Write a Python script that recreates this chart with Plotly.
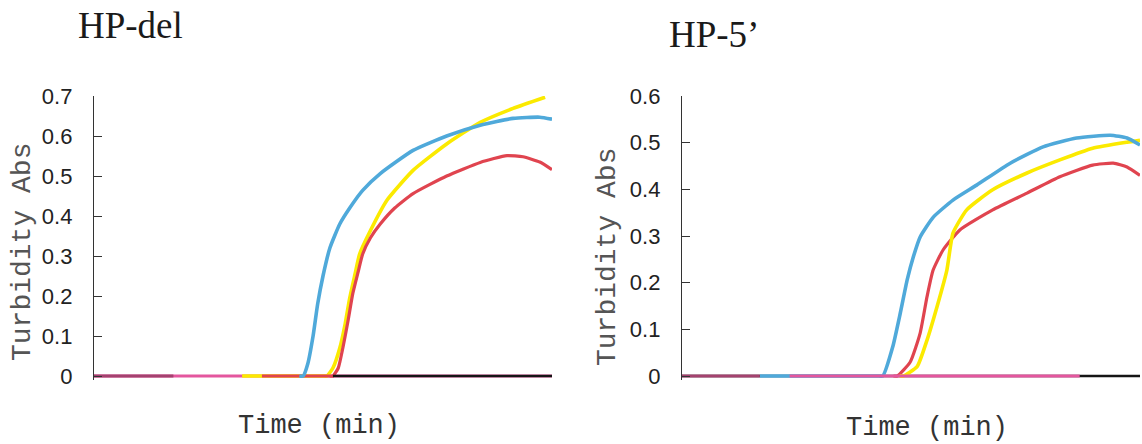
import plotly.graph_objects as go

W, H = 1142, 444

# ---------------- data (time in min, turbidity abs) ----------------
# HP-del panel
del_blue_t = [26.9, 27.4, 28.0, 28.7, 29.3, 30.0, 30.9, 32.2, 33.5, 35.2, 37.5, 41.8, 46.2, 50.6, 54.9, 58.4, 60.0]
del_blue_y = [0.0, 0.0, 0.03, 0.10, 0.18, 0.25, 0.32, 0.38, 0.42, 0.464, 0.506, 0.564, 0.600, 0.627, 0.644, 0.647, 0.642]
del_yellow_t = [19.4, 30.0, 30.5, 31.3, 32.2, 32.9, 33.5, 34.2, 34.8, 36.2, 38.4, 41.8, 46.2, 50.6, 54.9, 59.1]
del_yellow_y = [0.0, 0.0, 0.0, 0.02, 0.07, 0.13, 0.195, 0.255, 0.305, 0.363, 0.44, 0.514, 0.58, 0.634, 0.669, 0.697]
del_red_t = [22.0, 30.8, 31.3, 32.0, 32.6, 33.3, 33.9, 34.6, 35.2, 36.2, 37.5, 39.4, 41.8, 46.2, 50.6, 54.1, 56.2, 58.4, 60.0]
del_red_y = [0.0, 0.0, 0.0, 0.02, 0.07, 0.14, 0.206, 0.26, 0.305, 0.345, 0.38, 0.42, 0.456, 0.50, 0.534, 0.551, 0.548, 0.535, 0.516]
del_pink_t = [0.0, 60.0]
del_pink_y = [0.0, 0.0]
del_purple_t = [0.0, 10.4]
del_purple_y = [0.0, 0.0]
del_black_t = [31.3, 60.0]
del_black_y = [0.0, 0.0]

# HP-5' panel
p5_blue_t = [10.2, 25.8, 26.3, 27.6, 28.6, 29.5, 30.3, 31.2, 32.9, 35.5, 38.6, 43.0, 47.3, 51.7, 56.1, 58.3, 60.0]
p5_blue_y = [0.0, 0.0, 0.0, 0.062, 0.135, 0.206, 0.255, 0.298, 0.34, 0.377, 0.409, 0.456, 0.491, 0.51, 0.516, 0.51, 0.495]
p5_red_t = [27.7, 28.2, 29.9, 31.2, 32.1, 32.9, 34.2, 36.4, 40.7, 45.2, 49.5, 53.8, 56.5, 58.3, 60.0]
p5_red_y = [0.0, 0.0, 0.03, 0.092, 0.17, 0.227, 0.27, 0.313, 0.356, 0.392, 0.427, 0.452, 0.456, 0.448, 0.43]
p5_yellow_t = [28.5, 29.0, 30.8, 32.1, 33.4, 34.7, 35.5, 37.3, 40.7, 45.2, 49.5, 53.8, 58.3, 60.0]
p5_yellow_y = [0.0, 0.0, 0.02, 0.077, 0.148, 0.227, 0.306, 0.356, 0.399, 0.435, 0.463, 0.488, 0.501, 0.505]
p5_black_t = [0.0, 60.0]
p5_black_y = [0.0, 0.0]
p5_pink_t = [14.1, 52.1]
p5_pink_y = [0.0, 0.0]
p5_purple_t = [0.0, 10.2]
p5_purple_y = [0.0, 0.0]

del_yticks = [0, 0.1, 0.2, 0.3, 0.4, 0.5, 0.6, 0.7]
p5_yticks = [0, 0.1, 0.2, 0.3, 0.4, 0.5, 0.6]
titles = ["HP-del", "HP-5\u2019"]
y_title = "Turbidity Abs"
x_title = "Time (min)"

# ---------------- styling ----------------
C_BLUE = "#4fa9da"
C_YELLOW = "#fbea00"
C_RED = "#e0444f"
C_PINK = "#e4569e"
C_PURPLE = "#a4426f"
C_BLACK = "#151515"


def px_x(p):
    return p / W


def px_y(p):
    return 1 - p / H


fig = go.Figure()


def add(t, y, color, xa, ya, width=3.2):
    fig.add_trace(go.Scatter(x=t, y=y, mode="lines", xaxis=xa, yaxis=ya,
                             line=dict(color=color, width=width, shape="spline", smoothing=0.5),
                             showlegend=False, hoverinfo="skip"))


# left panel, bottom to top
add(del_pink_t, del_pink_y, C_PINK, "x", "y")
add(del_yellow_t, del_yellow_y, C_YELLOW, "x", "y", 3.6)
add(del_red_t, del_red_y, C_RED, "x", "y")
add(del_blue_t, del_blue_y, C_BLUE, "x", "y", 3.6)
add(del_purple_t, del_purple_y, C_PURPLE, "x", "y")
add(del_black_t, del_black_y, C_BLACK, "x", "y", 2.6)

# right panel, bottom to top
add(p5_black_t, p5_black_y, C_BLACK, "x2", "y2", 2.6)
add(p5_red_t, p5_red_y, C_RED, "x2", "y2")
add(p5_yellow_t, p5_yellow_y, C_YELLOW, "x2", "y2", 3.6)
add(p5_blue_t, p5_blue_y, C_BLUE, "x2", "y2", 3.6)
add(p5_pink_t, p5_pink_y, C_PINK, "x2", "y2")
add(p5_purple_t, p5_purple_y, C_PURPLE, "x2", "y2")

ydom = [px_y(380), px_y(96)]
yaxis_common = dict(showgrid=False, zeroline=False, showline=True, linecolor="#333",
                    linewidth=1.3, ticks="inside", ticklen=8, tickcolor="#333", tickwidth=1.3,
                    tickfont=dict(family="Liberation Sans, Arial", size=22, color="#222"),
                    ticklabelstandoff=16, fixedrange=True, automargin=False)
xaxis_common = dict(showgrid=False, zeroline=False, showline=False, showticklabels=False,
                    ticks="", range=[0, 60], fixedrange=True, automargin=False)

fig.update_layout(
    width=W, height=H,
    margin=dict(l=0, r=0, t=0, b=0, pad=0, autoexpand=False),
    paper_bgcolor="white", plot_bgcolor="white",
    xaxis=dict(domain=[px_x(94), px_x(552)], anchor="y", **xaxis_common),
    yaxis=dict(domain=ydom, anchor="x", range=[-0.01, 0.7], tickvals=del_yticks,
               ticktext=[f"{v:g}" for v in del_yticks], **yaxis_common),
    xaxis2=dict(domain=[px_x(682), px_x(1140)], anchor="y2", **xaxis_common),
    yaxis2=dict(domain=ydom, anchor="x2", range=[-0.6 * 4 / 280, 0.6], tickvals=p5_yticks,
                ticktext=[f"{v:g}" for v in p5_yticks], **yaxis_common),
)

serif = dict(family="Liberation Serif, Times New Roman", size=37, color="#1a1a1a")
mono_x = dict(family="Liberation Mono, Courier New", size=27, color="#333")
mono_y = dict(family="Liberation Mono, Courier New", size=28, color="#555")

ann = []
ann.append(dict(x=px_x(76), y=px_y(26), text=titles[0], xanchor="left", yanchor="middle", font=serif))
ann.append(dict(x=px_x(667), y=px_y(35), text=titles[1], xanchor="left", yanchor="middle", font=serif))
ann.append(dict(x=px_x(319), y=px_y(426), text=x_title, xanchor="center", yanchor="middle", font=mono_x))
ann.append(dict(x=px_x(927), y=px_y(428), text=x_title, xanchor="center", yanchor="middle", font=mono_x))
ann.append(dict(x=px_x(22), y=px_y(252), text=y_title, textangle=-90, xanchor="center", yanchor="middle", font=mono_y))
ann.append(dict(x=px_x(607), y=px_y(257), text=y_title, textangle=-90, xanchor="center", yanchor="middle", font=mono_y))
for a in ann:
    a.update(xref="paper", yref="paper", showarrow=False)
fig.update_layout(annotations=ann)

fig.write_html("out.html")
